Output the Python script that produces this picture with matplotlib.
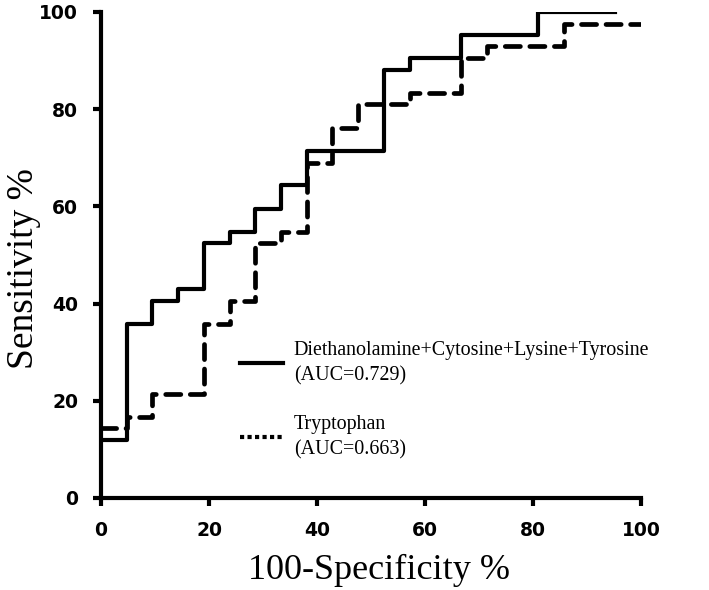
import matplotlib
matplotlib.use("Agg")
import matplotlib.pyplot as plt
from matplotlib.lines import Line2D

# ROC step points (100-specificity %, sensitivity %), where='post'
combo_fpr = [0, 4.76, 9.52, 14.29, 19.05, 23.81, 28.57, 33.33, 38.10, 52.38, 57.14, 66.67, 80.95, 95.24]
combo_tpr = [11.9, 35.7, 40.5, 42.9, 52.4, 54.8, 59.5, 64.3, 71.4, 88.1, 90.5, 95.2, 100, 100]

trp_fpr = [0, 4.76, 9.52, 19.05, 23.81, 28.57, 33.33, 38.10, 42.86, 47.62, 57.14, 66.67, 71.43, 85.71, 100]
trp_tpr = [14.3, 16.7, 21.4, 35.7, 40.5, 52.4, 54.8, 69.0, 76.2, 81.0, 83.3, 90.5, 92.9, 97.6, 97.6]

labels = ["Diethanolamine+Cytosine+Lysine+Tyrosine\n(AUC=0.729)",
          "Tryptophan\n(AUC=0.663)"]
ticks = [0, 20, 40, 60, 80, 100]

serif = ["Liberation Serif", "DejaVu Serif"]

fig = plt.figure(figsize=(7.09, 5.90), dpi=100)
ax = fig.add_axes([0.1425, 0.156, 0.7615, 0.8237])

ax.step(combo_fpr, combo_tpr, where='post', color='black', lw=3,
        solid_capstyle='projecting')
ax.step(trp_fpr, trp_tpr, where='post', color='black', lw=3.4,
        linestyle=(0, (3.2, 2.0)), dash_capstyle='round')

ax.set_xlim(0, 100)
ax.set_ylim(0, 100)
ax.set_xticks(ticks)
ax.set_yticks(ticks)

for side in ['top', 'right']:
    ax.spines[side].set_visible(False)
for side in ['left', 'bottom']:
    ax.spines[side].set_linewidth(3)
ax.tick_params(length=5.5, width=3)
ax.tick_params(axis='x', pad=11)
ax.tick_params(axis='y', pad=11)
for lab in ax.get_xticklabels() + ax.get_yticklabels():
    lab.set_fontfamily('DejaVu Sans')
    lab.set_fontweight('bold')
    lab.set_fontsize(13.5)

ax.set_xlabel("100-Specificity %", fontfamily=serif, fontsize=26)
ax.xaxis.set_label_coords(0.515, -0.116)
ax.set_ylabel("Sensitivity %", fontfamily=serif, fontsize=27)
ax.yaxis.set_label_coords(-0.112, 0.473)

handles = [Line2D([], [], color='black', lw=3),
           Line2D([], [], color='black', lw=3, linestyle=(0, (1, 0.8)))]
leg = ax.legend(handles, labels, loc='upper left', bbox_to_anchor=(0.257, 0.323),
                frameon=False, borderpad=0, borderaxespad=0, handlelength=2.15,
                handletextpad=0.55, labelspacing=1.47,
                prop={'family': serif, 'size': 14.4})
for t in leg.get_texts():
    t.set_linespacing(1.45)

fig.savefig("out.png", dpi=100)
